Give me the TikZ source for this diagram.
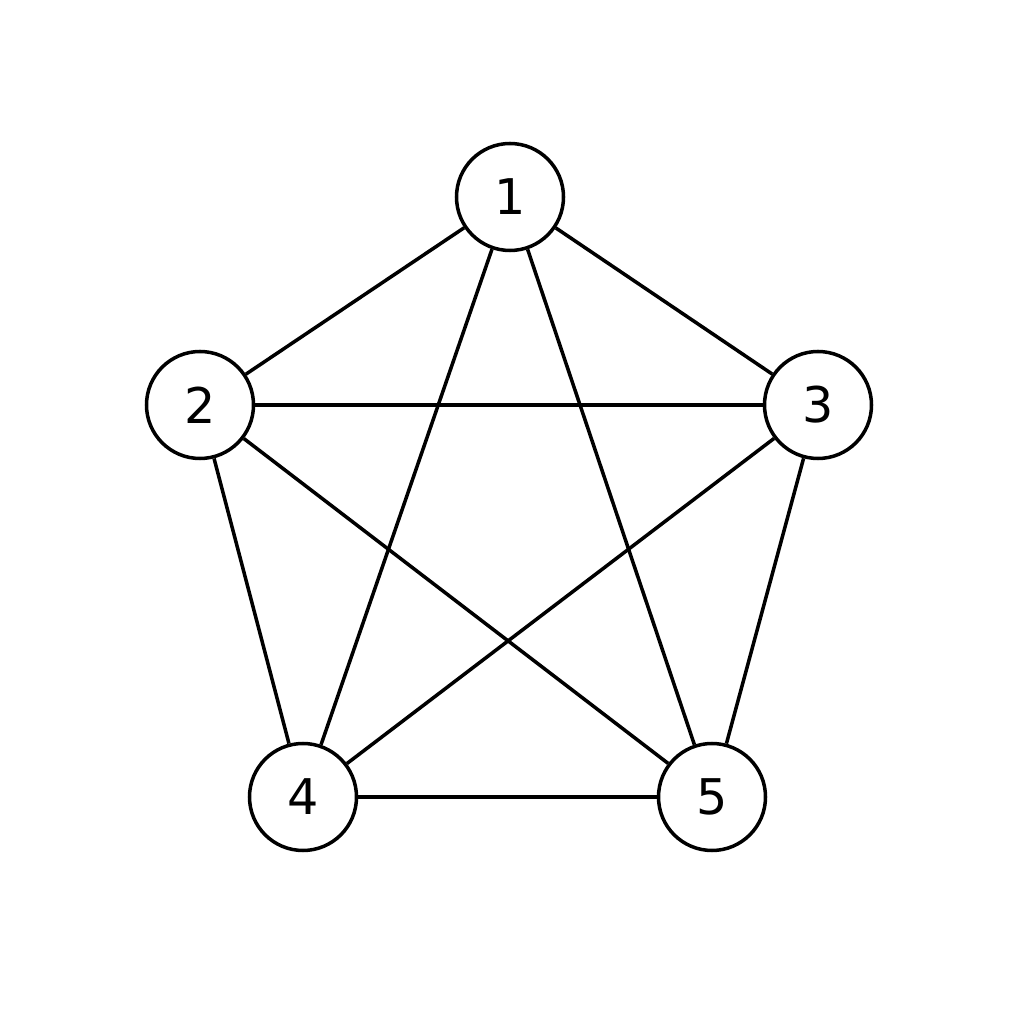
\documentclass[tikz,border=0pt]{standalone}
\usepackage{fontspec}
\setmainfont{DejaVu Sans}
\usetikzlibrary{positioning}
\tikzset{
    vertex/.style={
    circle,draw=black,fill=white,line width=1pt,minimum size=1.07cm,inner sep=0pt,font=\fontsize{14}{17}\selectfont
    },
    link/.style={draw, line width=1pt},
}
\begin{document}
\begin{tikzpicture}
\useasboundingbox[fill=white] (0,0) rectangle (10.24,10.24);

  \node[vertex] (n1) at (5.10,8.27) {1};
  \node[vertex] (n2) at (2.00,6.19) {2};
  \node[vertex] (n3) at (8.18,6.19) {3};
  \node[vertex] (n4) at (3.03,2.27) {4};
  \node[vertex] (n5) at (7.12,2.27) {5};

  \foreach \a/\b in {1/2,1/3,1/4,1/5,2/3,2/4,2/5,3/4,3/5,4/5}
    \path[link] (n\a) -- (n\b);
\end{tikzpicture}
\end{document}
